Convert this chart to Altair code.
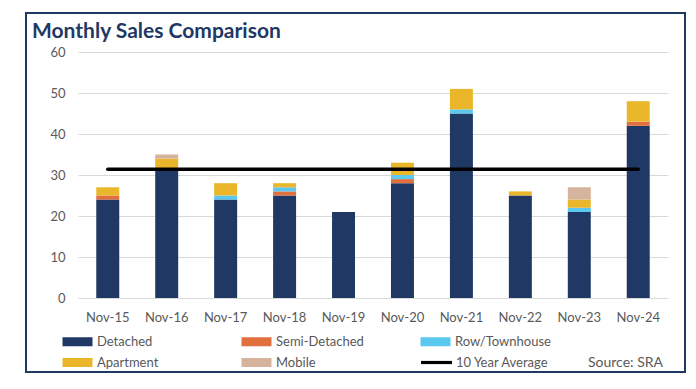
import altair as alt
import pandas as pd

months = ["Nov-15", "Nov-16", "Nov-17", "Nov-18", "Nov-19",
          "Nov-20", "Nov-21", "Nov-22", "Nov-23", "Nov-24"]
detached = [24, 31, 24, 25, 21, 28, 45, 25, 21, 42]
semi_detached = [1, 0, 0, 1, 0, 1, 0, 0, 0, 1]
row_townhouse = [0, 0, 1, 1, 0, 1, 1, 0, 1, 0]
apartment = [2, 3, 3, 1, 0, 3, 5, 1, 2, 5]
mobile = [0, 1, 0, 0, 0, 0, 0, 0, 3, 0]
ten_year_average = 31.4

bar_series = ["Detached", "Semi-Detached", "Row/Townhouse", "Apartment", "Mobile"]
bar_colors = ["#203864", "#E2703F", "#5BC8F0", "#EAB72A", "#D6B39C"]
line_series = ["10 Year Average"]
line_colors = ["#000000"]

series_values = [detached, semi_detached, row_townhouse, apartment, mobile]
rows = []
for k, (name, vals) in enumerate(zip(bar_series, series_values)):
    for m, v in zip(months, vals):
        if v > 0:
            rows.append({"month": m, "series": name, "value": v, "order": k})
bars_df = pd.DataFrame(rows)
avg_df = pd.DataFrame({"month": months,
                       "avg": [ten_year_average] * len(months),
                       "avgseries": line_series * len(months)})

FONT = "Lato"
NAVY = "#1F3864"
GREY = "#595959"

x_enc = alt.X("month:N", sort=months, title=None,
              scale=alt.Scale(paddingInner=0.61, paddingOuter=0.31),
              axis=alt.Axis(labelAngle=0, ticks=False, tickSize=0, domain=False,
                            labelPadding=13, labelFontSize=13, labelFont=FONT,
                            labelColor=GREY, grid=False))

legend_common = dict(orient="none", direction="horizontal",
                     symbolSize=100, symbolStrokeWidth=0, labelOffset=13,
                     labelFont=FONT, labelFontSize=13, labelColor=GREY,
                     labelLimit=200)

bars = alt.Chart(bars_df).mark_bar().encode(
    x=x_enc,
    y=alt.Y("sum(value):Q", title=None, stack="zero",
            scale=alt.Scale(domain=[0, 60]),
            axis=alt.Axis(values=[0, 10, 20, 30, 40, 50, 60], ticks=False, tickSize=0,
                          domain=False, labelPadding=13, labelFontSize=13,
                          labelFont=FONT, labelColor=GREY, gridColor="#D9D9D9",
                          gridWidth=1)),
    color=alt.Color("series:N", scale=alt.Scale(domain=bar_series, range=bar_colors),
                    title=None,
                    legend=alt.Legend(legendX=-7, legendY=283, columns=3,
                                      gridAlign="all", columnPadding=48, rowPadding=7,
                                      symbolType="M-3,-0.9H3V0.9H-3Z",
                                      **legend_common)),
    order=alt.Order("order:Q"),
)

line = alt.Chart(avg_df).mark_line(strokeWidth=3.5, strokeCap="round").encode(
    x=alt.X("month:N", sort=months),
    y=alt.Y("avg:Q"),
    color=alt.Color("avgseries:N", scale=alt.Scale(domain=line_series, range=line_colors),
                    title=None,
                    legend=alt.Legend(legendX=352, legendY=304,
                                      symbolType="M-3.1,-0.32H3.1V0.32H-3.1Z",
                                      symbolFillColor="#000000",
                                      **legend_common)),
)

frame = alt.Chart(pd.DataFrame({"f": [0]})).mark_rect(
    fillOpacity=0, stroke=NAVY, strokeWidth=2
).encode(x=alt.value(-52), x2=alt.value(607), y=alt.value(-39), y2=alt.value(320))

title = alt.Chart(pd.DataFrame({"t": ["Monthly Sales Comparison"]})).mark_text(
    align="left", baseline="alphabetic", font=FONT, fontSize=21, fontWeight="bold",
    color=NAVY
).encode(text="t:N", x=alt.value(-46), y=alt.value(-14))

source = alt.Chart(pd.DataFrame({"t": ["Source: SRA"]})).mark_text(
    align="right", baseline="alphabetic", font=FONT, fontSize=14, color=GREY
).encode(text="t:N", x=alt.value(585), y=alt.value(315))

chart = alt.layer(bars, line, frame, title, source).resolve_scale(
    color="independent"
).properties(
    width=590, height=246,
    padding={"left": 70, "top": 44, "right": 20, "bottom": 88},
    autosize=alt.AutoSizeParams(type="none"),
).configure_view(stroke=None)

chart.save("out.html", embed_options={"renderer": "svg", "actions": False})
